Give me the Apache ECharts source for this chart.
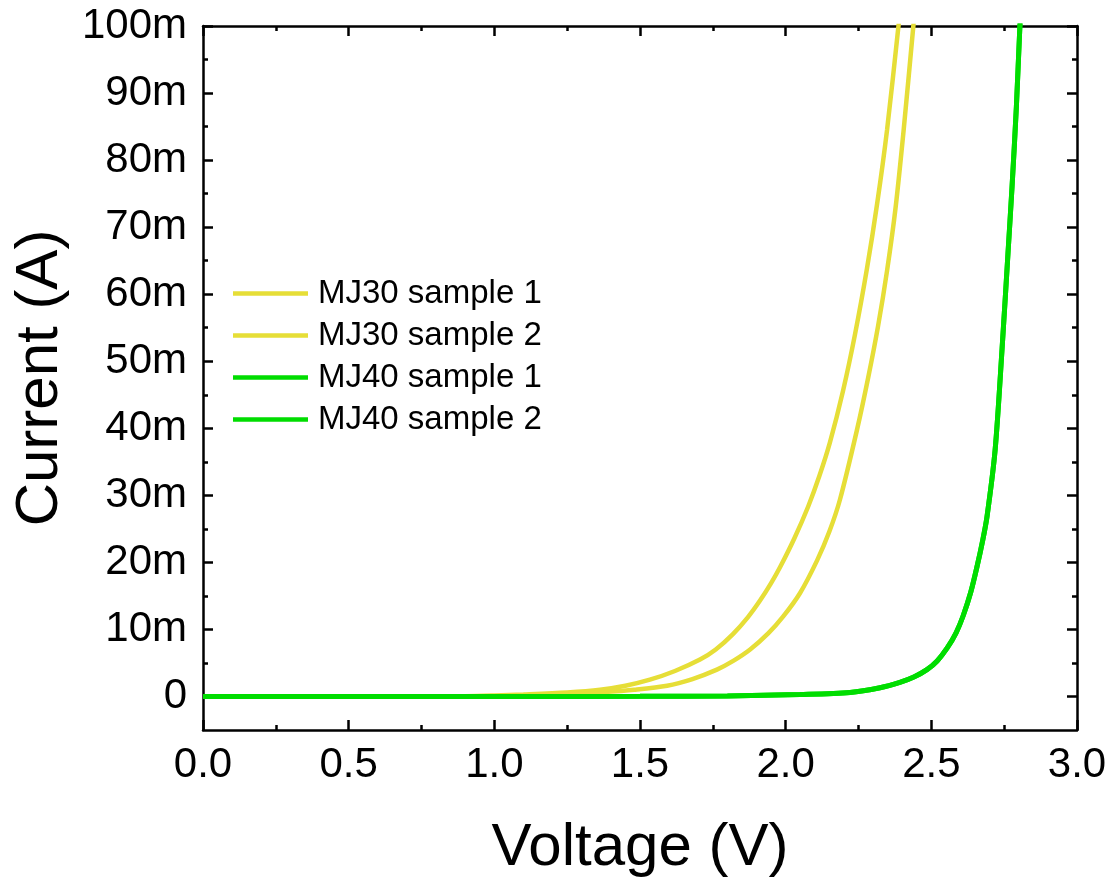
<!DOCTYPE html>
<html>
<head>
<meta charset="utf-8">
<title>Current vs Voltage</title>
<script src="https://cdn.jsdelivr.net/npm/echarts@6/dist/echarts.min.js"></script>
<style>
  html, body { margin: 0; padding: 0; background: #fff; }
  #chart { width: 1111px; height: 877px; }
</style>
</head>
<body>
<div id="chart"></div>
<script>
// Measured I-V curves: voltage in V, current in mA (axis labels carry the "m" prefix)
const seriesNames = ['MJ30 sample 1', 'MJ30 sample 2', 'MJ40 sample 1', 'MJ40 sample 2'];

const mj30s1V = [0, 0.5, 0.9, 1.0, 1.1, 1.25, 1.363, 1.45, 1.534, 1.62, 1.706, 1.76, 1.819, 1.87, 1.912, 1.95, 1.981, 2.03, 2.077, 2.115, 2.152, 2.197, 2.238, 2.279, 2.314, 2.348, 2.386, 2.40];
const mj30s1I = [0, 0, 0.05, 0.15, 0.3, 0.6, 1.0, 1.6, 2.5, 3.8, 5.5, 7.0, 9.3, 11.8, 14.3, 16.9, 19.3, 23.6, 28.3, 32.8, 37.9, 45.6, 54.0, 63.8, 73.5, 84.5, 99.5, 105];

const mj30s2V = [0, 0.5, 1.0, 1.15, 1.25, 1.363, 1.48, 1.593, 1.68, 1.764, 1.82, 1.878, 1.94, 1.991, 2.049, 2.108, 2.15, 2.186, 2.245, 2.283, 2.317, 2.348, 2.377, 2.405, 2.437, 2.45];
const mj30s2I = [0, 0, 0.05, 0.15, 0.3, 0.6, 1.0, 1.6, 2.6, 4.0, 5.3, 7.0, 9.4, 11.9, 15.4, 20.3, 24.6, 29.3, 39.8, 47.5, 55.2, 63.5, 72.8, 84.5, 99.4, 105.5];

const mj40s1V = [0, 0.5, 1.0, 1.5, 1.8, 2.049, 2.221, 2.324, 2.392, 2.44, 2.485, 2.52, 2.554, 2.585, 2.609, 2.635, 2.657, 2.675, 2.691, 2.719, 2.743, 2.763, 2.777, 2.792, 2.804, 2.81];
const mj40s1I = [0, 0, 0, 0.02, 0.08, 0.3, 0.6, 1.3, 2.1, 2.9, 4.0, 5.3, 7.2, 9.5, 12.0, 15.5, 19.4, 23.0, 26.8, 36.8, 52.0, 66.0, 76.0, 88.0, 100.0, 105];

const mj40s2V = [0, 0.5, 1.0, 1.5, 1.8, 2.049, 2.221, 2.324, 2.392, 2.44, 2.485, 2.52, 2.554, 2.585, 2.609, 2.635, 2.657, 2.675, 2.691, 2.719, 2.743, 2.763, 2.777, 2.792, 2.804, 2.81];
const mj40s2I = [0, 0, 0, 0.02, 0.08, 0.3, 0.6, 1.3, 2.1, 2.9, 4.0, 5.3, 7.2, 9.5, 12.0, 15.5, 19.4, 23.0, 26.8, 36.8, 52.0, 66.0, 76.0, 88.0, 100.0, 105];

// Tick positions on the current axis (mA)
const yMajorTicks = [0, 10, 20, 30, 40, 50, 60, 70, 80, 90, 100];
const yMinorTicks = [5, 15, 25, 35, 45, 55, 65, 75, 85, 95];

const FONT = '"Liberation Sans", Arial, Helvetica, sans-serif';
const BLACK = '#000';
const AXIS_W = 2.5;
const YELLOW = '#E6DE37';
const GREEN = '#00DD00';

function pairs(xs, ys) { return xs.map((x, i) => [x, ys[i]]); }

const chart = echarts.init(document.getElementById('chart'), null, { renderer: 'canvas' });

const xCommon = {
  type: 'value', min: 0, max: 3, interval: 0.5,
  splitLine: { show: false },
  axisLine: { show: true, onZero: false, lineStyle: { color: BLACK, width: AXIS_W } },
  axisTick: { show: true, inside: true, length: 10, lineStyle: { color: BLACK, width: AXIS_W } },
  minorTick: { show: true, splitNumber: 2, length: 5, lineStyle: { color: BLACK, width: AXIS_W } }
};

function yAxisDef(position, ticks, len, showLine, showLabels) {
  const def = {
    type: 'value', position: position, min: -5, max: 100, interval: 5,
    splitLine: { show: false },
    axisLine: { show: showLine, onZero: false, lineStyle: { color: BLACK, width: AXIS_W } },
    axisTick: { show: true, inside: true, length: len, customValues: ticks, lineStyle: { color: BLACK, width: AXIS_W } },
    axisLabel: { show: false }
  };
  if (showLabels) {
    def.axisLabel = {
      show: true, customValues: yMajorTicks, margin: 16,
      color: BLACK, fontSize: 42, fontFamily: FONT,
      formatter: v => (v === 0 ? '0' : v + 'm')
    };
    def.name = 'Current (A)';
    def.nameLocation = 'middle';
    def.nameGap = 133;
    def.nameTextStyle = { color: BLACK, fontSize: 60, fontFamily: FONT };
  }
  return def;
}

function lineSeries(name, data, color, width) {
  return {
    name: name, type: 'line', data: data,
    xAxisIndex: 0, yAxisIndex: 0,
    symbol: 'none', showSymbol: false,
    smooth: 0.3,
    clip: true,
    lineStyle: { color: color, width: width },
    itemStyle: { color: color },
    emphasis: { disabled: true }
  };
}

chart.setOption({
  backgroundColor: '#fff',
  animation: false,
  grid: { left: 203, right: 34, top: 26, bottom: 147, containLabel: false, outerBoundsMode: 'none' },
  legend: {
    data: seriesNames.map(n => ({ name: n, icon: 'rect' })),
    orient: 'vertical',
    left: 233, top: 277,
    itemWidth: 75, itemHeight: 4.5, itemGap: 9,
    padding: 0,
    textStyle: { color: BLACK, fontSize: 33, fontFamily: FONT, padding: [0, 0, 0, 5] }
  },
  xAxis: [
    Object.assign({}, xCommon, {
      position: 'bottom',
      axisLabel: { show: true, margin: 14, color: BLACK, fontSize: 42, fontFamily: FONT, formatter: v => v.toFixed(1) },
      name: 'Voltage (V)', nameLocation: 'middle', nameGap: 88,
      nameTextStyle: { color: BLACK, fontSize: 60, fontFamily: FONT }
    }),
    Object.assign({}, xCommon, { position: 'top', axisLabel: { show: false } })
  ],
  yAxis: [
    yAxisDef('left', yMajorTicks, 10, true, true),
    yAxisDef('left', yMinorTicks, 5, false, false),
    yAxisDef('right', yMajorTicks, 10, true, false),
    yAxisDef('right', yMinorTicks, 5, false, false)
  ],
  series: [
    lineSeries(seriesNames[0], pairs(mj30s1V, mj30s1I), YELLOW, 4.5),
    lineSeries(seriesNames[1], pairs(mj30s2V, mj30s2I), YELLOW, 4.5),
    lineSeries(seriesNames[2], pairs(mj40s1V, mj40s1I), GREEN, 5),
    lineSeries(seriesNames[3], pairs(mj40s2V, mj40s2I), GREEN, 5)
  ]
});
</script>
</body>
</html>
